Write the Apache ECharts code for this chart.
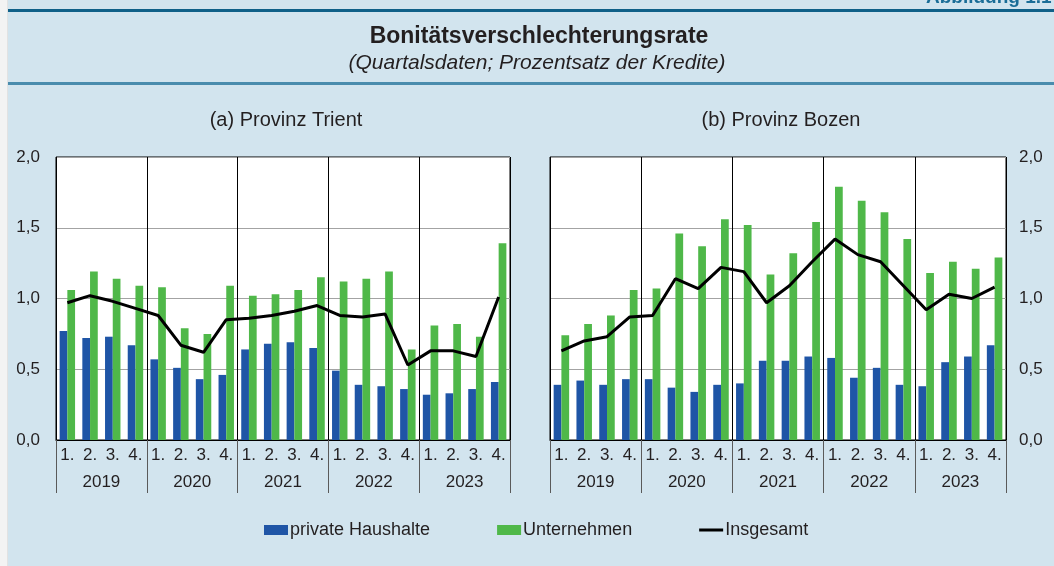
<!DOCTYPE html>
<html>
<head>
<meta charset="utf-8">
<script src="https://cdn.jsdelivr.net/npm/echarts@6/dist/echarts.min.js"></script>
<style>
  html, body { margin: 0; padding: 0; background: #ffffff; }
  #wrap { position: relative; width: 1054px; height: 566px; overflow: hidden; }
  #strip { position: absolute; left: 0; top: 0; width: 8px; height: 566px; background: #f3f3f3; border-right: 1px solid #e2e2e2; box-sizing: border-box; }
  #bg { position: absolute; left: 8px; top: 0; width: 1046px; height: 566px; background: #d2e4ee; }
  #line1 { position: absolute; left: 8px; top: 9px; width: 1046px; height: 3px; background: #0f6088; }
  #line2 { position: absolute; left: 8px; top: 82px; width: 1046px; height: 3px; background: #4a8cad; }
  #main { position: absolute; left: 0; top: 0; width: 1054px; height: 566px; }
</style>
</head>
<body>
<div id="wrap">
  <div id="strip"></div>
  <div id="bg"></div>
  <div id="line1"></div>
  <div id="line2"></div>
  <div id="main"></div>
</div>
<script>
// ---- data ----
var quarters = ['1.', '2.', '3.', '4.', '1.', '2.', '3.', '4.', '1.', '2.', '3.', '4.', '1.', '2.', '3.', '4.', '1.', '2.', '3.', '4.'];
var years = ['2019', '2020', '2021', '2022', '2023'];
var yTicks = [0, 0.5, 1.0, 1.5, 2.0];

// (a) Provinz Trient
var trientHaushalte = [0.77, 0.72, 0.73, 0.67, 0.57, 0.51, 0.43, 0.46, 0.64, 0.68, 0.69, 0.65, 0.49, 0.39, 0.38, 0.36, 0.32, 0.33, 0.36, 0.41];
var trientUnternehmen = [1.06, 1.19, 1.14, 1.09, 1.08, 0.79, 0.75, 1.09, 1.02, 1.03, 1.06, 1.15, 1.12, 1.14, 1.19, 0.64, 0.81, 0.82, 0.73, 1.39];
var trientInsgesamt = [0.97, 1.02, 0.98, 0.93, 0.88, 0.67, 0.62, 0.85, 0.86, 0.88, 0.91, 0.95, 0.88, 0.87, 0.89, 0.53, 0.63, 0.63, 0.59, 1.01];

// (b) Provinz Bozen
var bozenHaushalte = [0.39, 0.42, 0.39, 0.43, 0.43, 0.37, 0.34, 0.39, 0.40, 0.56, 0.56, 0.59, 0.58, 0.44, 0.51, 0.39, 0.38, 0.55, 0.59, 0.67];
var bozenUnternehmen = [0.74, 0.82, 0.88, 1.06, 1.07, 1.46, 1.37, 1.56, 1.52, 1.17, 1.32, 1.54, 1.79, 1.69, 1.61, 1.42, 1.18, 1.26, 1.21, 1.29];
var bozenInsgesamt = [0.63, 0.70, 0.73, 0.87, 0.88, 1.14, 1.07, 1.22, 1.19, 0.97, 1.09, 1.26, 1.42, 1.31, 1.26, 1.09, 0.92, 1.03, 1.00, 1.08];

var names = ['private Haushalte', 'Unternehmen', 'Insgesamt'];
// ---- styles ----
var BLUE = '#1f55a6';
var GREEN = '#4fb849';
var TXT = '#231f20';
var FONT = '"Liberation Sans", Arial, sans-serif';

function fmt(v) { return v.toFixed(1).replace('.', ','); }

function quarterAxis(gi) {
  return {
    type: 'category', gridIndex: gi, data: quarters, position: 'bottom',
    boundaryGap: true,
    axisLine: { show: true, onZero: false, lineStyle: { color: '#000', width: 1 } },
    axisTick: { show: false },
    axisLabel: { interval: 0, margin: 7, fontSize: 17, color: TXT, fontFamily: FONT },
    splitLine: { show: false }
  };
}
function yearAxis(gi) {
  return {
    type: 'category', gridIndex: gi, data: years, position: 'bottom', offset: 0,
    boundaryGap: true,
    axisLine: { show: false, onZero: false },
    axisTick: { show: true, interval: 0, length: 53, lineStyle: { color: '#5a5a5a', width: 1 } },
    axisLabel: { interval: 0, margin: 34, fontSize: 17, color: TXT, fontFamily: FONT },
    splitLine: { show: true, interval: 0, lineStyle: { color: '#000', width: 1 } }
  };
}
function valueAxis(gi, pos, margin) {
  return {
    type: 'value', gridIndex: gi, position: pos, min: yTicks[0], max: yTicks[yTicks.length - 1], interval: 0.5,
    axisLine: { show: false }, axisTick: { show: false },
    axisLabel: { margin: margin, fontSize: 17, color: TXT, fontFamily: FONT, formatter: fmt },
    splitLine: { show: true, lineStyle: { color: '#a3a3a3', width: 1 } }
  };
}
function barSeries(name, data, xi, yi, color) {
  return {
    name: name, type: 'bar', data: data, xAxisIndex: xi, yAxisIndex: yi,
    barGap: '0%', barCategoryGap: '32%',
    itemStyle: { color: color }, z: 3
  };
}
function lineSeries(name, data, xi, yi) {
  return {
    name: name, type: 'line', data: data, xAxisIndex: xi, yAxisIndex: yi,
    symbol: 'none', showSymbol: false, lineStyle: { color: '#000', width: 3 }, itemStyle: { color: '#000' }, z: 5
  };
}

var chart = echarts.init(document.getElementById('main'), null, { renderer: 'canvas' });
chart.setOption({
  backgroundColor: 'transparent',
  animation: false,
  textStyle: { fontFamily: FONT },
  title: [
    { text: 'Bonitätsverschlechterungsrate', left: 539, top: 25, textAlign: 'center', padding: 0,
      textStyle: { fontSize: 23, fontWeight: 'bold', color: TXT, fontFamily: FONT } },
    { text: '(Quartalsdaten; Prozentsatz der Kredite)', left: 537, top: 53, textAlign: 'center', padding: 0,
      textStyle: { fontSize: 21, fontStyle: 'italic', fontWeight: 'normal', color: TXT, fontFamily: FONT } },
    { text: '(a) Provinz Trient', left: 286, top: 110, textAlign: 'center', padding: 0,
      textStyle: { fontSize: 20, fontWeight: 'normal', color: TXT, fontFamily: FONT } },
    { text: '(b) Provinz Bozen', left: 781, top: 110, textAlign: 'center', padding: 0,
      textStyle: { fontSize: 20, fontWeight: 'normal', color: TXT, fontFamily: FONT } },
    { text: 'Abbildung 1.1', left: 926, top: -12, padding: 0,
      textStyle: { fontSize: 19, fontWeight: 'bold', color: '#1a6d97', fontFamily: FONT } }
  ],
  legend: {
    data: [
      { name: names[0], icon: 'rect' },
      { name: names[1], icon: 'rect' },
      { name: names[2], icon: 'path://M0,0 L24,0 L24,3 L0,3 Z', itemStyle: { color: '#000' } }
    ],
    left: 264, top: 521, padding: 0, itemWidth: 24, itemHeight: 10, itemGap: 67,
    textStyle: { fontSize: 18, color: TXT, fontFamily: FONT, padding: [0, 0, 0, -3] }
  },
  grid: [
    { left: 56, top: 157, width: 454, height: 283, show: true, backgroundColor: '#ffffff', borderColor: '#000', borderWidth: 1 },
    { left: 550, top: 157, width: 456, height: 283, show: true, backgroundColor: '#ffffff', borderColor: '#000', borderWidth: 1 }
  ],
  xAxis: [quarterAxis(0), yearAxis(0), quarterAxis(1), yearAxis(1)],
  yAxis: [valueAxis(0, 'left', 16), valueAxis(1, 'right', 13)],
  series: [
    barSeries(names[0], trientHaushalte, 0, 0, BLUE),
    barSeries(names[1], trientUnternehmen, 0, 0, GREEN),
    lineSeries(names[2], trientInsgesamt, 0, 0),
    barSeries(names[0], bozenHaushalte, 2, 1, BLUE),
    barSeries(names[1], bozenUnternehmen, 2, 1, GREEN),
    lineSeries(names[2], bozenInsgesamt, 2, 1)
  ]
});
</script>
</body>
</html>
